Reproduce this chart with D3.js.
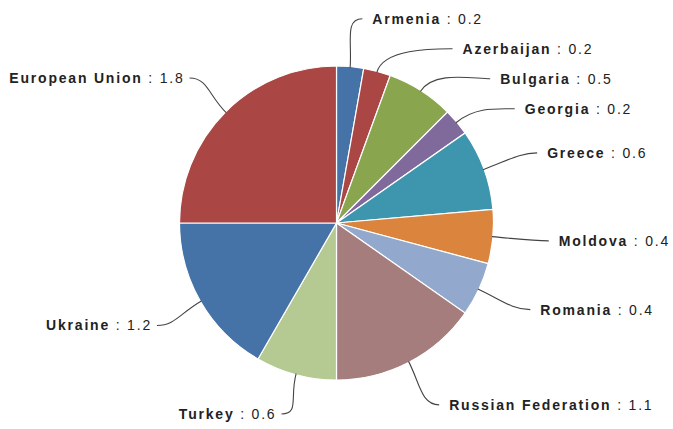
<!DOCTYPE html>
<html>
<head>
<meta charset="utf-8">
<script src="https://cdnjs.cloudflare.com/ajax/libs/d3/7.8.5/d3.min.js"></script>
<style>
  body { margin: 0; background: #fff; }
  .lbl { font-family: "Liberation Sans", Arial, sans-serif; font-size: 14px; letter-spacing: 1.8px; fill: #222; }
  .lbl .nm { font-weight: bold; }
</style>
</head>
<body>
<div id="chart"></div>
<script>

var countries = ["Armenia", "Azerbaijan", "Bulgaria", "Georgia", "Greece", "Moldova",
                 "Romania", "Russian Federation", "Turkey", "Ukraine", "European Union"];
var values = [0.2, 0.2, 0.5, 0.2, 0.6, 0.4, 0.4, 1.1, 0.6, 1.2, 1.8];
var palette = ["#4572A7", "#AA4643", "#89A54E", "#80699B", "#3D96AE", "#DB843D",
               "#92A8CD", "#A47D7C", "#B5CA92"];

var w = 673, h = 429;
var cx = 336.5, cy = 223, r = 157;
var lbl_r = 205;     // radius where labels sit before being pushed apart
var gap = 30;        // min vertical space between labels on one side
var ymin = 18, ymax = 414;

var data = countries.map(function(c, i) { return {name: c, value: values[i]}; });

var svg = d3.select("#chart").append("svg")
  .attr("width", w).attr("height", h);

var g = svg.append("g").attr("transform", "translate(" + cx + "," + cy + ")");

var pie = d3.pie().sort(null).value(function(d) { return d.value; });
var arc = d3.arc().innerRadius(0).outerRadius(r);

var arcs = pie(data);

g.selectAll("path.slice")
  .data(arcs)
  .enter()
  .append("path")
    .attr("class", "slice")
    .attr("d", arc)
    .attr("fill", function(d, i) { return palette[i % palette.length]; })
    .attr("stroke", "#fff")
    .attr("stroke-width", 1.2);

// label layout
var labels = arcs.map(function(d) {
  var a = (d.startAngle + d.endAngle) / 2;
  var side = Math.sin(a) >= 0 ? 1 : -1;
  var y = -lbl_r * Math.cos(a);
  return {d: d, a: a, side: side, y0: y, y: y};
});

[1, -1].forEach(function(s) {
  var grp = labels.filter(function(l) { return l.side == s; })
    .sort(function(a, b) { return a.y0 - b.y0; });
  var prev = -Infinity;
  grp.forEach(function(l) {
    l.y = Math.max(l.y0, prev + gap, ymin - cy);
    l.y = Math.min(l.y, ymax - cy);
    l.pushed = l.y > l.y0 + 0.5;
    prev = l.y;
  });
});

labels.forEach(function(l) {
  var xa = Math.abs(lbl_r * Math.sin(l.a));
  var xc = Math.sqrt(Math.max(0, lbl_r * lbl_r - l.y * l.y));
  var off = l.side > 0 ? 8 : 2;
  l.x = l.side * ((l.pushed ? Math.max(xa, xc) : xa) + off);
});

// connectors
g.selectAll("path.conn")
  .data(labels)
  .enter()
  .append("path")
    .attr("class", "conn")
    .attr("fill", "none")
    .attr("stroke", "#444")
    .attr("stroke-width", 1.1)
    .attr("d", function(l) {
      var x0 = (r - 1) * Math.sin(l.a), y0 = -(r - 1) * Math.cos(l.a);
      var x1 = (r + 24) * Math.sin(l.a), y1 = -(r + 24) * Math.cos(l.a);
      var path = d3.path();
      path.moveTo(x0, y0);
      path.bezierCurveTo(x1, y1, l.x - l.side * 18, l.y, l.x, l.y);
      return path.toString();
    });

var txt = g.selectAll("text.lbl")
  .data(labels)
  .enter()
  .append("text")
    .attr("class", "lbl")
    .attr("x", function(l) { return l.x + (l.side > 0 ? 10 : -5); })
    .attr("y", function(l) { return l.y; })
    .attr("dy", "0.35em")
    .attr("text-anchor", function(l) { return l.side > 0 ? "start" : "end"; });

txt.append("tspan").attr("class", "nm").text(function(l) { return l.d.data.name; });
txt.append("tspan").text(function(l) { return " : " + l.d.data.value; });

</script>
</body>
</html>
